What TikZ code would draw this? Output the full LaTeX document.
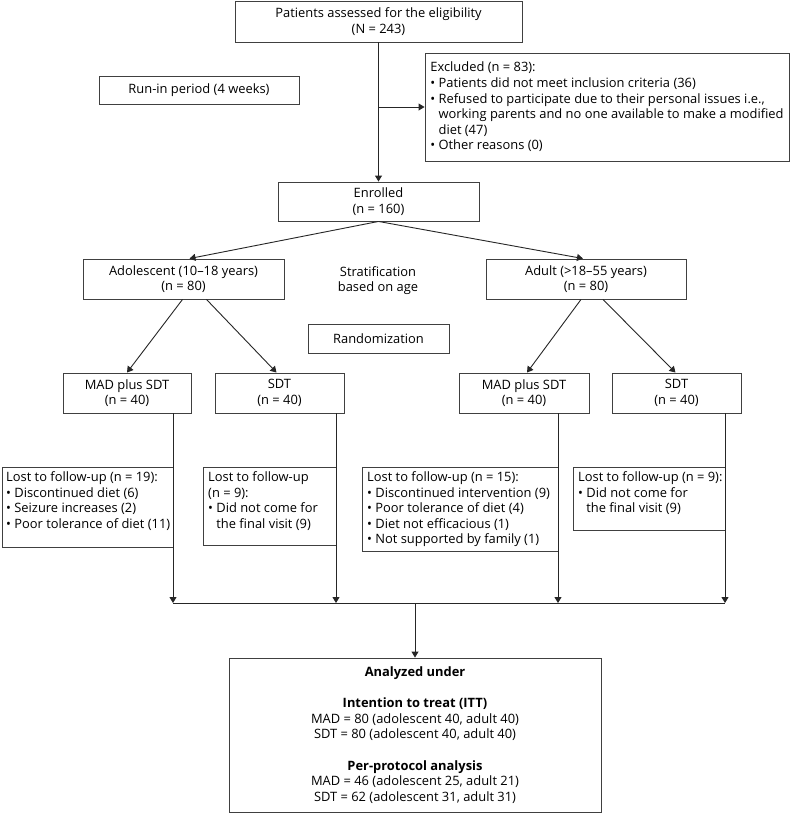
\documentclass[tikz,border=0pt]{standalone}
\usepackage{fontspec}
\setmainfont{Open Sans}
\usetikzlibrary{arrows.meta}
\begin{document}
\begin{tikzpicture}[x=1pt,y=-1pt,
  every node/.style={font=\fontsize{12.9}{15.6}\selectfont},
  box/.style={draw=black!75, line width=0.9pt, inner sep=0pt, align=center},
  txt/.style={inner sep=0pt, align=left, anchor=north west},
  arr/.style={draw=black!85, line width=0.9pt, -{Triangle[width=7pt,length=6pt]}},
  ln/.style={draw=black!85, line width=0.9pt}]
\fill[white] (0,0) rectangle (794,814);
\useasboundingbox (0,0) rectangle (794,814);

% top
\node[box, minimum width=287pt, minimum height=41pt] (top) at (378.5,21.5)
  {Patients assessed for the eligibility\\(N = 243)};
\node[box, minimum width=200pt, minimum height=28pt] (runin) at (199,90)
  {Run-in period (4 weeks)};
\node[box, minimum width=364pt, minimum height=108pt, align=left] (excl) at (607,107)
  {Excluded (n = 83):\\
   • Patients did not meet inclusion criteria (36)\\
   • Refused to participate due to their personal issues i.e.,\\
   \hphantom{• }working parents and no one available to make a modified\\
   \hphantom{• }diet (47)\\
   • Other reasons (0)};
\node[box, minimum width=201pt, minimum height=39pt] (enr) at (378.5,201.5)
  {Enrolled\\(n = 160)};

% strata
\node[box, minimum width=201pt, minimum height=40pt] (adol) at (183.5,279)
  {Adolescent (10–18 years)\\(n = 80)};
\node[box, minimum width=200pt, minimum height=40pt] (adult) at (586,279)
  {Adult (>18–55 years)\\(n = 80)};
\node[align=center, inner sep=0pt] (strat) at (378,280.5) {Stratification\\based on age};
\node[box, minimum width=141pt, minimum height=29pt] (rand) at (378.5,338.5) {Randomization};

% arms
\node[box, minimum width=128pt, minimum height=40pt] (mad1) at (127,393) {MAD plus SDT\\(n = 40)};
\node[box, minimum width=129pt, minimum height=40pt] (sdt1) at (279.5,393) {SDT\\(n = 40)};
\node[box, minimum width=130pt, minimum height=40pt] (mad2) at (524,393) {MAD plus SDT\\(n = 40)};
\node[box, minimum width=129pt, minimum height=40pt] (sdt2) at (676.5,393) {SDT\\(n = 40)};

% lost boxes
\node[box, minimum width=171pt, minimum height=80pt, anchor=north west] (l1) at (2,467) {};
\node[txt] (l1t) at (6,471.5) {Lost to follow-up (n = 19):\\
  • Discontinued diet (6)\\
  • Seizure increases (2)\\
  • Poor tolerance of diet (11)};
\node[box, minimum width=133pt, minimum height=78pt, anchor=north west] (l2) at (203,467) {};
\node[txt] (l2t) at (208,471.5) {Lost to follow-up\\
  (n = 9):\\
  • Did not come for\\
  \hphantom{• }the final visit (9)};
\node[box, minimum width=196pt, minimum height=84pt, anchor=north west] (l3) at (362,467) {};
\node[txt] (l3t) at (367,471.5) {Lost to follow-up (n = 15):\\
  • Discontinued intervention (9)\\
  • Poor tolerance of diet (4)\\
  • Diet not efficacious (1)\\
  • Not supported by family (1)};
\node[box, minimum width=152pt, minimum height=63pt, anchor=north west] (l4) at (573,467) {};
\node[txt] (l4t) at (578,471.5) {Lost to follow-up (n = 9):\\
  • Did not come for\\
  \hphantom{• }the final visit (9)};

% analysis
\node[box, minimum width=372pt, minimum height=154pt] (ana) at (415,735)
  {\textbf{Analyzed under}\\[15.6pt]
   \textbf{Intention to treat (ITT)}\\
   MAD = 80 (adolescent 40, adult 40)\\
   SDT = 80 (adolescent 40, adult 40)\\[15.6pt]
   \textbf{Per-protocol analysis}\\
   MAD = 46 (adolescent 25, adult 21)\\
   SDT = 62 (adolescent 31, adult 31)};

% junction coordinates
\coordinate (j1) at (173,603);
\coordinate (j2) at (336,603);
\coordinate (j3) at (558,603);
\coordinate (j4) at (725,603);

% connectors
\draw[arr] (top.south) -- (enr.north);
\draw[arr] (top.south |- excl.west) -- (excl.west);
\draw[arr] (enr.south) -- ([xshift=6pt]adol.north);
\draw[arr] (enr.south) -- ([xshift=-3pt]adult.north);
\draw[arr] ([xshift=-1pt]adol.south) -- (mad1.north);
\draw[arr] ([xshift=23pt]adol.south) -- ([xshift=-3pt]sdt1.north);
\draw[arr] ([xshift=-5pt]adult.south) -- ([xshift=3pt]mad2.north);
\draw[arr] ([xshift=17pt]adult.south) -- ([xshift=-1pt]sdt2.north);
\draw[arr] (mad1.south -| j1) -- (j1);
\draw[arr] (sdt1.south -| j2) -- (j2);
\draw[arr] (mad2.south -| j3) -- (j3);
\draw[arr] (sdt2.south -| j4) -- (j4);
\draw[ln] (j1) -- (j4);
\draw[arr] (ana.north |- j1) -- (ana.north);
\end{tikzpicture}
\end{document}
